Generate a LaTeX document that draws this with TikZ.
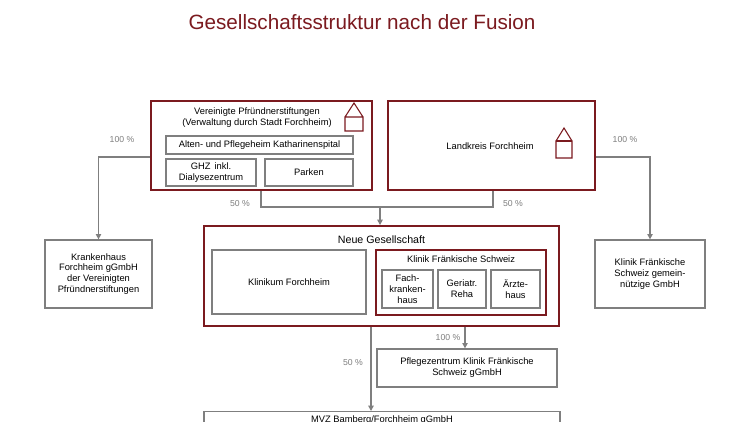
\documentclass[tikz,border=0pt]{standalone}
\usepackage{fontspec}
\setmainfont{Liberation Sans}
\usetikzlibrary{arrows.meta,positioning}
\definecolor{dred}{HTML}{7B1A1F}
\definecolor{lgray}{HTML}{7F7F7F}
\begin{document}
\begin{tikzpicture}[x=0.75pt,y=-0.75pt,
  sz/.style 2 args={minimum width=#1*0.75pt, minimum height=#2*0.75pt},
  outer/.style={draw=dred, line width=1.4pt, rectangle, inner sep=0pt},
  inner/.style={draw=lgray, line width=1pt, rectangle, inner sep=0pt, font=\fontsize{7}{8.2}\selectfont, align=center},
  lbl/.style={font=\fontsize{6.5}{7}\selectfont, text=lgray},
  link/.style={draw=lgray, line width=1.1pt},
  arr/.style={link, -{Triangle[length=4pt,width=4pt]}},
  txt/.style={font=\fontsize{7}{8.2}\selectfont, align=center},
  ]
  \clip (0,0) rectangle (748,421);
  \fill[white] (0,0) rectangle (748,421);
  \node[font=\fontsize{15.5}{18}\selectfont, text=dred] (title) at (362,22) {Gesellschaftsstruktur nach der Fusion};

  % top owners
  \node (vp) [outer, sz={221}{89}] at (261.5,145.5) {};
  \node[txt] (vptxt) at (257,118) {Vereinigte Pfründnerstiftungen\\(Verwaltung durch Stadt Forchheim)};
  \node (alten) [inner, sz={187}{18}] at (259.5,145) {Alten- und Pflegeheim Katharinenspital};
  \node (ghz) [inner, sz={90}{27}] at (211,172.5) {GHZ\,\ inkl.\\Dialysezentrum};
  \node (parken) [inner, sz={88}{27}] at (309,172.5) {Parken};
  \draw[dred, line width=0.8pt] (345,131) rectangle (363,117) (345,117) -- (354,103) -- (363,117);

  \node (lk) [outer, sz={207}{89}] at (491.5,145.5) {};
  \node[txt] (lktxt) at (490,146) {Landkreis Forchheim};
  \draw[dred, line width=0.8pt] (556,158) rectangle (572,141) (556,141) -- (564,128) -- (572,141);
  \draw[dred, line width=1.5pt] (556,141) -- (572,141);

  % side companies
  \node (kh) [inner, sz={107}{68}] at (98.5,274) {Krankenhaus\\Forchheim gGmbH\\der Vereinigten\\Pfründnerstiftungen};
  \node (kfsg) [inner, sz={110}{68}] at (650,274) {Klinik Fränkische\\Schweiz gemein-\\nützige GmbH};

  % new company
  \node (neu) [outer, sz={355}{100}] at (381.5,276) {};
  \node[font=\fontsize{8}{9}\selectfont] (neutxt) at (381.5,240) {Neue Gesellschaft};
  \node (kf) [inner, sz={154}{64}] at (289,282) {Klinikum Forchheim};
  \node (kfs) [outer, line width=1.2pt, sz={170}{65}] at (461,282.5) {};
  \node[txt] (kfstxt) at (461,259) {Klinik Fränkische Schweiz};
  \node (fach) [inner, sz={51}{38}] at (407.5,289) {Fach-\\kranken-\\haus};
  \node (ger) [inner, sz={48}{38}] at (462,289) {Geriatr.\\Reha};
  \node (arzt) [inner, sz={49}{38}] at (515.5,289) {Ärzte-\\haus};

  \node (pfl) [inner, sz={180}{38}] at (467,368) {Pflegezentrum Klinik Fränkische\\Schweiz gGmbH};
  \node (mvz) [inner, sz={356}{40}, anchor=north] at (382,411) {};
  \node[txt] (mvztxt) at (382,420) {MVZ Bamberg/Forchheim gGmbH};

  % connectors
  \coordinate (j) at (380,207);
  \draw[link] (vp.south -| 261,0) |- (j) -| (lk.south -| 493,0);
  \draw[arr] (j) -- (neu.north -| j);
  \draw[arr] (vp.west |- 0,157) -| (kh.north);
  \draw[arr] (lk.east |- 0,157) -| (kfsg.north);
  \draw[arr] (neu.south -| 465,0) -- (pfl.north -| 465,0);
  \draw[arr] (neu.south -| 371,0) -- (mvz.north -| 371,0);

  \node[lbl] at (122,140) {100 \%};
  \node[lbl] at (625,140) {100 \%};
  \node[lbl] at (240,204) {50 \%};
  \node[lbl] at (513,204) {50 \%};
  \node[lbl] at (448,338) {100 \%};
  \node[lbl] at (353,363) {50 \%};
\end{tikzpicture}
\end{document}
